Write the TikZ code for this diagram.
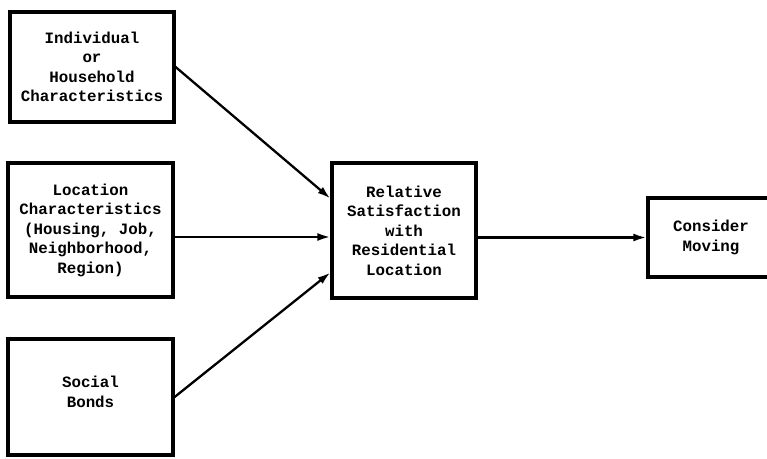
\documentclass[tikz,border=0pt]{standalone}
\usepackage{fontspec}
\setmonofont{Liberation Mono}
\usepackage{tikz}
\usetikzlibrary{arrows.meta,positioning}
\tikzset{
  box/.style={draw=black,line width=3.2pt,align=center,inner sep=0pt,
    font=\ttfamily\bfseries\fontsize{15.8}{19.5}\selectfont},
  ar/.style={-{Latex[length=13pt,width=8pt]},draw=black,line width=2.3pt},
}
\begin{document}
\begin{tikzpicture}[x=1pt,y=1pt]
  \useasboundingbox (0,0) rectangle (767,458);
  \clip (0,0) rectangle (767,458);
  % input boxes
  \node[box,minimum width=164pt,minimum height=110pt] (indiv) at (92,391)
    {Individual\\or\\Household\\Characteristics};
  \node[box,minimum width=165pt,minimum height=134pt] (locat) at (90.5,228)
    {Location\\Characteristics\\(Housing, Job,\\Neighborhood,\\Region)};
  \node[box,minimum width=165pt,minimum height=116pt,text depth=10pt] (bonds) at (90.5,61)
    {Social\\Bonds};
  % centre and outcome
  \node[box,minimum width=144pt,minimum height=135pt] (satis) at (404,227.5)
    {Relative\\Satisfaction\\with\\Residential\\Location};
  \node[box,minimum width=126pt,minimum height=79pt] (move) at (711,220.5)
    {Consider\\Moving};
  \draw[ar] (indiv.east) -- ([yshift=32pt]satis.west);
  \draw[ar] ([yshift=-7pt]locat.east) -- ([yshift=-6.5pt]satis.west);
  \draw[ar] (bonds.east) -- ([yshift=-42pt]satis.west);
  \draw[ar] ([yshift=-7pt]satis.east) -- (move.west);
\end{tikzpicture}
\end{document}
